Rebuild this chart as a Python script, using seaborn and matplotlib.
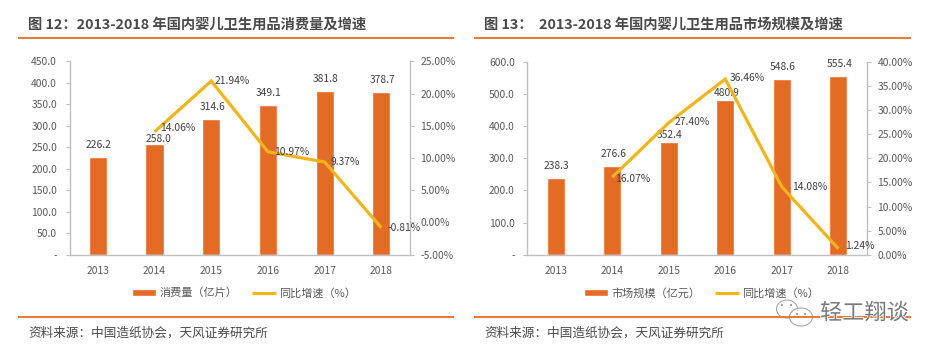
import numpy as np
import pandas as pd
import matplotlib
matplotlib.use("Agg")
import matplotlib.pyplot as plt
from matplotlib.patches import Ellipse, Circle
import matplotlib.patheffects as pe
import seaborn as sns

years = ["2013", "2014", "2015", "2016", "2017", "2018"]

volume = [226.2, 258.0, 314.6, 349.1, 381.8, 378.7]
volume_growth = [np.nan, 14.06, 21.94, 10.97, 9.37, -0.81]
market = [238.3, 276.6, 352.4, 480.9, 548.6, 555.4]
market_growth = [np.nan, 16.07, 27.40, 36.46, 14.08, 1.24]

title_left = "图 12：2013-2018 年国内婴儿卫生用品消费量及增速"
title_right = "图 13：  2013-2018 年国内婴儿卫生用品市场规模及增速"
source_text = "资料来源：中国造纸协会，天风证券研究所"
bar_name_left = "消费量（亿片）"
bar_name_right = "市场规模（亿元）"
line_name = "同比增速（%）"

sns.set_theme(style="white")
plt.rcParams["font.family"] = ["Noto Sans CJK SC", "DejaVu Sans"]

W, H = 941, 354
ORANGE = "#E46B26"
GOLD = "#F0B41E"
RULE = "#E27B3C"
GRID = "#BFBFBF"
TXT = "#595959"
LAB = "#404040"
PX = 0.72

fig = plt.figure(figsize=(W / 100, H / 100), dpi=100, facecolor="white")


def to_rect(x0, x1, y0, y1):
    return [x0 / W, 1 - y1 / H, (x1 - x0) / W, (y1 - y0) / H]


def panel(rect, bars, growth, ymax, ystep, gmin, gmax, gstep, bar_name,
          bar_off, line_off, legend_center):
    ax = fig.add_axes(rect)
    pos = np.arange(len(years))
    frame = pd.DataFrame({"year": years, "pos": pos, "bars": bars, "growth": growth})
    sns.barplot(data=frame, x="year", y="bars", ax=ax, color=ORANGE, width=0.32,
                saturation=1, label=bar_name, legend=False)
    ax.set_xlim(-0.5, 5.5)
    ax.set_ylim(0, ymax)
    ticks = np.arange(0, ymax + 1, ystep)
    ax.set_yticks(ticks)
    ax.set_yticklabels(["-" if t == 0 else f"{t:.1f}" for t in ticks])
    ax.set_xlabel("")
    ax.set_ylabel("")
    ax.tick_params(axis="y", length=3, width=0.8, color=GRID, labelcolor=TXT,
                   labelsize=7.4, pad=6, left=True)
    ax.tick_params(axis="x", length=0, labelcolor=TXT, labelsize=7.4, pad=8)

    ax2 = ax.twinx()
    sns.lineplot(data=frame, x="pos", y="growth", ax=ax2, color=GOLD, linewidth=2.3,
                 label=line_name, legend=False, solid_joinstyle="miter",
                 solid_capstyle="butt")
    ax2.set_xlim(-0.5, 5.5)
    ax2.set_ylim(gmin, gmax)
    gt = np.arange(gmin, gmax + 0.1, gstep)
    ax2.set_yticks(gt)
    ax2.set_yticklabels([f"{t:.2f}%" for t in gt])
    ax2.set_xlabel("")
    ax2.set_ylabel("")
    ax2.tick_params(axis="y", length=3, width=0.8, color=GRID, labelcolor=TXT,
                    labelsize=7.4, pad=4.8, right=True)

    for a in (ax, ax2):
        a.set_facecolor("none")
        a.grid(False)
        for s in a.spines.values():
            s.set_visible(False)
            s.set_color(GRID)
            s.set_linewidth(1)
    ax.spines["left"].set_visible(True)
    ax.spines["bottom"].set_visible(True)
    ax2.spines["right"].set_visible(True)

    for i, v in enumerate(bars):
        ax.annotate(f"{v:.1f}", (i, v), xytext=(bar_off[i][0] * PX, bar_off[i][1] * PX),
                    textcoords="offset points", ha="center", va="center",
                    fontsize=7.4, color=LAB, zorder=6, annotation_clip=False)
    for i, v in enumerate(growth):
        if np.isnan(v):
            continue
        ax2.annotate(f"{v:.2f}%", (i, v), xytext=(line_off[i][0] * PX, line_off[i][1] * PX),
                     textcoords="offset points", ha="left", va="center",
                     fontsize=7.4, color=LAB, zorder=6, annotation_clip=False)

    h1, l1 = ax.get_legend_handles_labels()
    h2, l2 = ax2.get_legend_handles_labels()
    ax2.legend(h1 + h2, l1 + l2, ncol=2, loc="center", frameon=False,
               bbox_to_anchor=(legend_center / W, 1 - 293 / H),
               bbox_transform=fig.transFigure, fontsize=8, labelcolor=TXT,
               handlelength=2.16, handleheight=0.6, handletextpad=0.27,
               columnspacing=1.35)
    return ax, ax2


panel(to_rect(69.5, 409.7, 61.3, 254.7), volume, volume_growth, 450, 50, -5, 25, 5,
      bar_name_left,
      [(1, 12), (4, 5), (1, 12), (1, 12), (1, 12), (1, 12)],
      [None, (6, 4), (3, 0), (6, 0), (6, 0), (6, 0)],
      244)
panel(to_rect(527.3, 866.7, 62, 254.7), market, market_growth, 600, 100, 0, 40, 5,
      bar_name_right,
      [(1, 12), (1, 12), (1, 7), (1, 7), (1, 12), (1, 12)],
      [None, (3, -2), (6, 1), (4, 1), (10, 0), (7, 3)],
      701.5)

ov = fig.add_axes([0, 0, 1, 1], zorder=10)
ov.set_xlim(0, W)
ov.set_ylim(H, 0)
ov.axis("off")
ov.patch.set_alpha(0)

for x0, x1 in [(18, 454), (474, 911)]:
    ov.plot([x0, x1], [38, 38], color=RULE, lw=1.5, solid_capstyle="butt")
    ov.plot([x0, x1], [317, 317], color=RULE, lw=1.5, solid_capstyle="butt")

ov.text(28, 25, title_left, fontsize=10.3, fontweight="bold", color="#4A4A4A",
        ha="left", va="center")
ov.text(484, 25, title_right, fontsize=10.3, fontweight="bold", color="#4A4A4A",
        ha="left", va="center")
ov.text(28, 333, source_text, fontsize=9.07, color="#4A4A4A", ha="left", va="center")
ov.text(484, 333, source_text, fontsize=9.07, color="#4A4A4A", ha="left", va="center")

# watermark: the rule shows through it
halo = [pe.withStroke(linewidth=1.2, foreground="white")]
ov.text(820, 313, "轻工翔谈", fontsize=16, color="#7A7A7A", ha="left", va="center",
        path_effects=halo)
ov.add_patch(Ellipse((787, 309), 21, 18, fc=(1, 1, 1, 0.6), ec="#9A9A9A", lw=0.7))
ov.add_patch(Ellipse((801, 317), 23, 18, fc=(1, 1, 1, 0.8), ec="#9A9A9A", lw=0.7))
for cx, cy in [(782, 305), (791, 305), (797, 314), (805, 314)]:
    ov.add_patch(Circle((cx, cy), 1.0, fc="#8C8C8C", ec="none"))

fig.savefig("out.png", dpi=100, facecolor="white")
